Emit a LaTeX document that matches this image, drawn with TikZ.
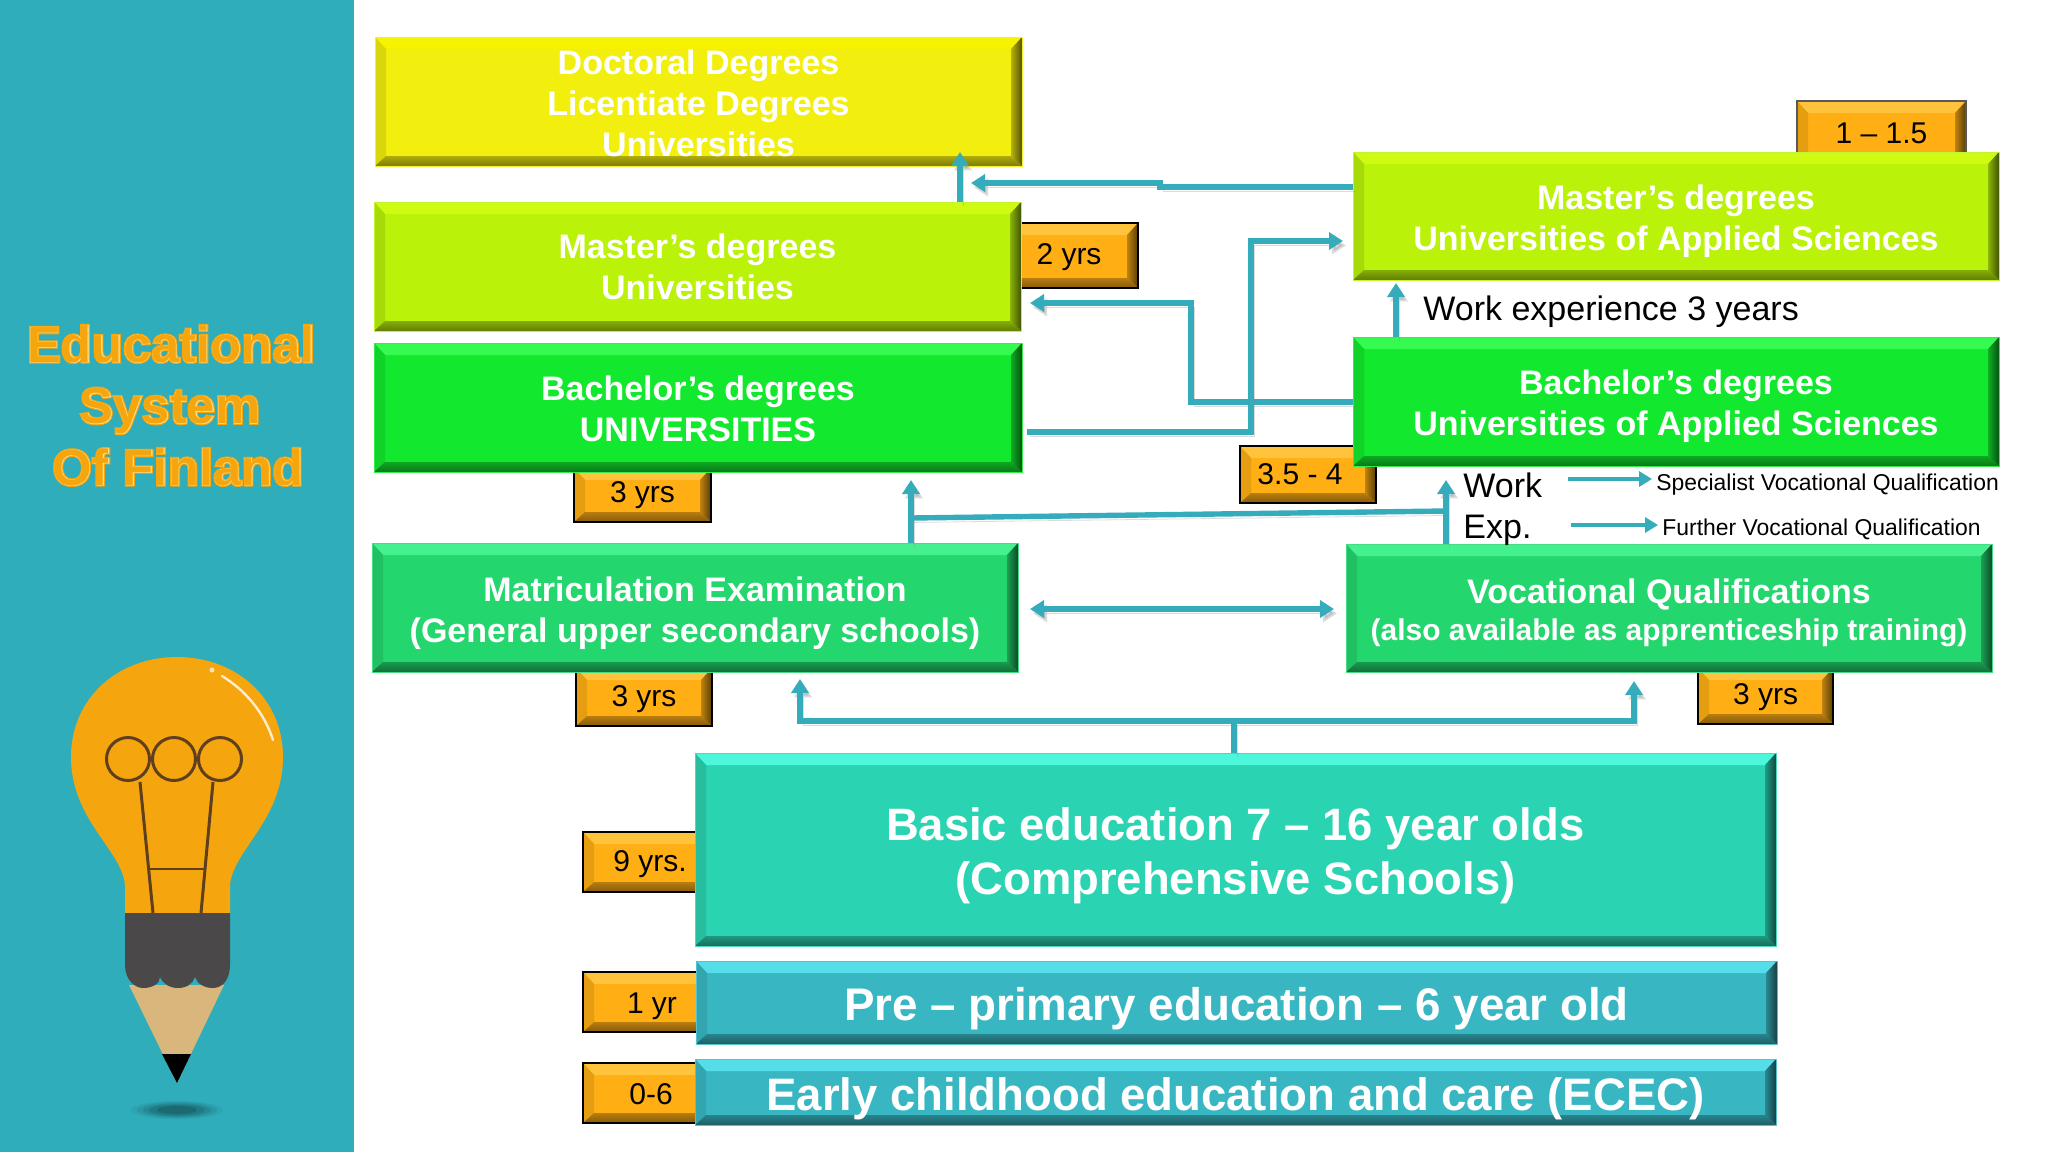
\documentclass[tikz,border=0pt]{standalone}
\usepackage{fontspec}
\setmainfont{Liberation Sans}
\newfontfamily\ttlheavy[FakeBold=5.5]{Liberation Sans Bold}
\newfontfamily\ttlmid[FakeBold=0.9]{Liberation Sans Bold}
\newfontfamily\ttlthin{Liberation Sans Bold}
\usetikzlibrary{arrows.meta}
\definecolor{panel}{HTML}{30ADBB}
\definecolor{conncol}{HTML}{35ACBC}
\definecolor{ttlor}{HTML}{F5A60E}
\definecolor{ttlpale}{HTML}{FFE39A}
\definecolor{cDoc}{HTML}{F2EE0E}\definecolor{cDocT}{HTML}{F7F200}
\definecolor{cMas}{HTML}{BAF20A}\definecolor{cMasT}{HTML}{CFFA12}
\definecolor{cBac}{HTML}{12E92E}\definecolor{cBacT}{HTML}{35FB50}
\definecolor{cMat}{HTML}{24D66E}\definecolor{cMatT}{HTML}{45F08E}
\definecolor{cBas}{HTML}{2AD3B1}\definecolor{cBasT}{HTML}{4DF8DA}
\definecolor{cPre}{HTML}{38B7C3}\definecolor{cPreT}{HTML}{55DEEA}
\definecolor{cLab}{HTML}{FFAE14}\definecolor{cLabT}{HTML}{FFC43C}
\definecolor{brown1}{HTML}{5F3F1E}
\definecolor{wood}{HTML}{D9B77C}
\definecolor{capgrey}{HTML}{4A4848}
\tikzset{
  x=0.5pt,y=-0.5pt,
  boxtxt/.style={text=white,font=\bfseries\fontsize{17}{20.5}\selectfont},
  labtxt/.style={text=black,draw=black,line width=0.8pt,font=\fontsize{15}{18}\selectfont},
  plain/.style={text=black,inner sep=0pt,font=\fontsize{17}{20}\selectfont},
  small/.style={text=black,inner sep=2pt,font=\fontsize{11.45}{14}\selectfont},
  conn/.style={draw=conncol,line width=2.7pt,line join=miter,
    preaction={draw=black!50,opacity=.28,transform canvas={shift={(1.5pt,-2.2pt)}}}},
  tip/.style={-{Triangle[length=7pt,width=8.5pt]}},
  thin conn/.style={draw=conncol,line width=1.6pt,-{Triangle[length=6.5pt,width=7.5pt]}},
}
% lowers a text line without changing the layout of its node
\newcommand\dn[2]{\raisebox{-#1}[\height][\depth]{#2}}
% name, x1, y1, x2, y2, base colour, node options, text
\newcommand\bev[8]{%
  \fill[#6] (#2,#3) rectangle (#4,#5);
  \fill[#6T] (#2,#3) -- (#4,#3) -- ({#4-11},{#3+12}) -- ({#2+11},{#3+12}) -- cycle;
  \fill[#6!90!black] (#2,#3) -- ({#2+11},{#3+12}) -- ({#2+11},{#5-10}) -- (#2,#5) -- cycle;
  \shade[left color=#6!75!black,right color=#6!35!black] (#4,#3) -- ({#4-11},{#3+12}) -- ({#4-11},{#5-10}) -- (#4,#5) -- cycle;
  \shade[top color=#6!72!black,bottom color=#6!52!black] (#2,#5) -- ({#2+11},{#5-10}) -- ({#4-11},{#5-10}) -- (#4,#5) -- cycle;
  \node[inner sep=0pt,align=center,minimum width={(#4-#2)*0.5pt},minimum height={(#5-#3)*0.5pt},draw=#6!85!white,line width=0.5pt,#7]
    (#1) at ({(#2+#4)/2},{(#3+#5)/2}) {#8};
}
\newcommand\glow[1]{\rlap{\ttlheavy\color{ttlor}#1}\rlap{\ttlmid\color{ttlpale}#1}{\ttlthin\color{ttlor}#1}}
\begin{document}
\begin{tikzpicture}
\useasboundingbox (0,0) rectangle (2048,1152);
\fill[white] (0,0) rectangle (2048,1152);
\fill[panel] (0,0) rectangle (354,1152);
% title
\node[inner sep=0pt,font=\fontsize{25.4}{30}\selectfont] (title1) at (171,344) {\glow{Educational}};
\node[inner sep=0pt,font=\fontsize{25.4}{30}\selectfont] (title2) at (170,411) {\glow{System}};
\node[inner sep=0pt,font=\fontsize{25.4}{30}\selectfont] (title3) at (178,467) {\glow{Of Finland}};
% bulb and pencil
\foreach \r/\o in {46/.05,40/.07,34/.09,28/.11,20/.13} {\fill[black,opacity=\o] (177,1110) ellipse [x radius=\r,y radius={\r*0.2}];}
\fill[ttlor] (125,915) -- (125,885) .. controls (122,850) and (71,820) .. (71,757) .. controls (71,698) and (118,657) .. (177,657) .. controls (236,657) and (283,698) .. (283,757) .. controls (283,820) and (233,850) .. (230,885) -- (230,915) -- cycle;
\draw[white!80!ttlor,line width=1.2pt,line cap=round] (222,676) .. controls (245,690) and (264,712) .. (273,740);
\fill[white!70!ttlor] (212,670) circle (2.5);
\begin{scope}[draw=brown1,line width=1.5pt]
\draw (128,759) circle (21.5);
\draw (174,759) circle (21.5);
\draw (220,759) circle (21.5);
\draw (140,782) -- (153,913);
\draw (213,782) -- (201,913);
\draw[line width=1.2pt] (148,869) -- (204,869);
\end{scope}
\fill[wood] (129,985) -- (177,1083) -- (224,985) -- cycle;
\fill[black] (162,1054) -- (191,1054) -- (177,1083) -- cycle;
\fill[capgrey] (125,913) -- (125,965) .. controls (125,980) and (135,988) .. (143,988) .. controls (152,988) and (160,984) .. (160,977) .. controls (163,984) and (170,988) .. (178,988) .. controls (186,988) and (193,984) .. (195,977) .. controls (197,984) and (205,988) .. (213,988) .. controls (222,988) and (230,980) .. (230,965) -- (230,913) -- cycle;
% year labels (under the boxes)
\bev{lOne}{1797}{101}{1966}{165}{cLab}{labtxt,draw=black!65}{1 – 1.5}
\bev{lTwo}{1000}{223}{1138}{288}{cLab}{labtxt}{\dn{.7pt}{2 yrs}}
\bev{lBac}{574}{468}{711}{522}{cLab}{labtxt}{3 yrs}
\bev{lApp}{1240}{446}{1376}{503}{cLab}{labtxt}{3.5 - 4\hspace{8pt}}
\bev{lMat}{576}{668}{712}{726}{cLab}{labtxt}{\dn{1.3pt}{3 yrs}}
\bev{lVoc}{1698}{668}{1833}{724}{cLab}{labtxt}{\dn{.7pt}{3 yrs}}
\bev{lNine}{583}{832}{717}{892}{cLab}{labtxt}{\dn{1.3pt}{9 yrs.}}
\bev{lYr}{583}{972}{721}{1032}{cLab}{labtxt}{\dn{2pt}{1 yr}}
\bev{lSix}{583}{1063}{719}{1123}{cLab}{labtxt}{\dn{.7pt}{0-6}}
% main boxes
\bev{doc}{375}{37}{1022}{166}{cDoc}{boxtxt}{\dn{.8pt}{Doctoral Degrees}\\\dn{.8pt}{Licentiate Degrees}\\\dn{.8pt}{Universities}}
\bev{masU}{374}{202}{1021}{331}{cMas}{boxtxt}{Master’s degrees\\Universities}
\bev{bacU}{374}{343}{1022}{472}{cBac}{boxtxt}{\dn{.6pt}{Bachelor’s degrees}\\\dn{.6pt}{UNIVERSITIES}}
\bev{mat}{372}{543}{1018}{672}{cMat}{boxtxt}{\dn{2.6pt}{Matriculation Examination}\\\dn{2.6pt}{(General upper secondary schools)}}
\bev{masA}{1353}{152}{1999}{280}{cMas}{boxtxt}{\dn{2.6pt}{Master’s degrees}\\\dn{2.6pt}{Universities of Applied Sciences}}
\bev{bacA}{1353}{337}{1999}{466}{cBac}{boxtxt}{\dn{2.3pt}{Bachelor’s degrees}\\\dn{2.3pt}{Universities of Applied Sciences}}
\bev{voc}{1346}{544}{1992}{672}{cMat}{boxtxt}{\dn{3.3pt}{Vocational Qualifications}\\\dn{1.3pt}{\fontsize{15}{19}\selectfont (also available as apprenticeship training)}}
\bev{bas}{695}{753}{1776}{946}{cBas}{boxtxt,font=\bfseries\fontsize{22.7}{27}\selectfont}{\dn{3.3pt}{Basic education 7 – 16 year olds}\\\dn{3.3pt}{(Comprehensive Schools)}}
\bev{pre}{696}{961}{1777}{1044}{cPre}{boxtxt,font=\bfseries\fontsize{22.85}{27}\selectfont}{\dn{3pt}{Pre – primary education – 6 year old}}
\bev{ece}{695}{1059}{1776}{1125}{cPre}{boxtxt,font=\bfseries\fontsize{22.75}{27}\selectfont}{\dn{3.3pt}{Early childhood education and care (ECEC)}}
% free texts
\node[plain,anchor=west] (wexp) at (1423,312) {Work experience 3 years};
\node[plain,anchor=west] (work) at (1463,485) {Work};
\node[plain,anchor=west] (exp) at (1463,530) {Exp.};
\node[small,anchor=west] (spec) at (1652,485) {Specialist Vocational Qualification};
\node[small,anchor=west] (furt) at (1658,529) {Further Vocational Qualification};
% connector ends
\coordinate (aDoc) at (960,152);
\coordinate (aMasL) at (971,183);
\coordinate (aMasU) at (1030,303);
\coordinate (sBacU) at (1027,432);
\coordinate (aMasA) at (1343,241);
\coordinate (aBacU) at (911,480);
\coordinate (aVocUp) at (1446,480);
\coordinate (aWork) at (1396,283);
\coordinate (dL) at (1030,609);
\coordinate (dR) at (1334,609);
\coordinate (aMat) at (800,679);
\coordinate (aVoc) at (1634,681);
\coordinate (sSpec) at (1568,479);
\coordinate (sFurt) at (1571,525);
\coordinate (stem) at (1234,721);
% connectors
\draw[conn,tip] (aDoc |- masU.north) -- (aDoc);
\draw[conn,tip] (masA.west |- 0,187) -- (1160,187) -- (1160,183) -- (aMasL);
\draw[conn,tip] (bacA.west |- 0,402) -- (1191,402) -- (1191,303) -- (aMasU);
\draw[conn,tip] (sBacU) -- (1251,432) -- (1251,241) -- (aMasA);
\draw[conn,tip] (aBacU |- mat.north) -- (aBacU);
\draw[conn] (911,518) -- (1446,511);
\draw[conn,tip] (aVocUp |- voc.north) -- (aVocUp);
\draw[conn,tip] (aWork |- bacA.north) -- (aWork);
\draw[conn,{Triangle[length=7pt,width=8.5pt]}-{Triangle[length=7pt,width=8.5pt]}] (dL) -- (dR);
\draw[conn,tip] (stem) -- (800,721) -- (aMat);
\draw[conn,tip] (stem) -- (1634,721) -- (aVoc);
\draw[conn] (stem |- bas.north) -- (stem);
\draw[thin conn] (sSpec) -- (sSpec -| spec.west);
\draw[thin conn] (sFurt) -- (sFurt -| furt.west);
\end{tikzpicture}
\end{document}
